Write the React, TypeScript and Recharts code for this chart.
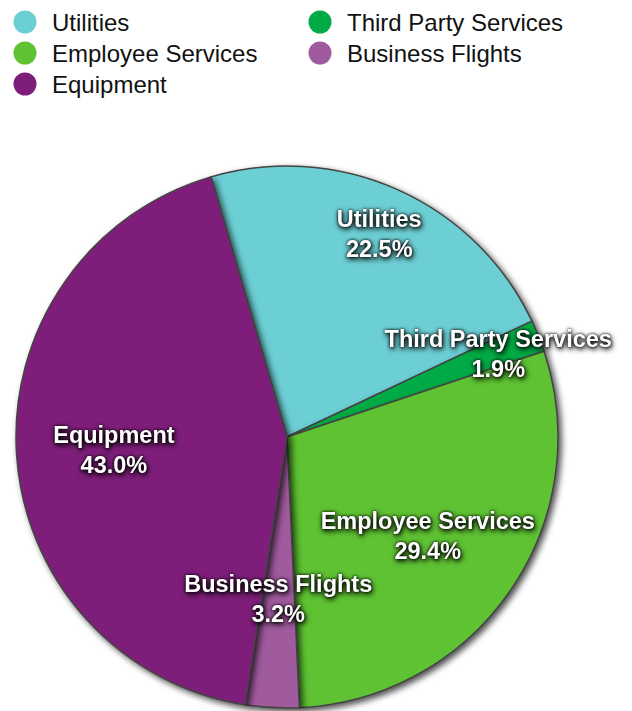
import React from 'react';
import { PieChart, Pie, Cell } from 'recharts';

const categories = ['Utilities', 'Third Party Services', 'Employee Services', 'Business Flights', 'Equipment'];
const shares = [22.5, 1.9, 29.4, 3.2, 43.0];
const colors = ['#6ccfd4', '#00aa44', '#5ec232', '#a05a9e', '#7e1e7a'];
// label distance as fraction of radius, per slice
const labelDist = [0.83, 0.84, 0.63, 0.59, 0.64];

const data = categories.map((name, i) => ({ name, value: shares[i] }));

const RAD = Math.PI / 180;
const FONT = 'Liberation Sans, Arial, Helvetica, sans-serif';

const renderLabel = (props: any) => {
  const { cx, cy, midAngle, outerRadius, index, name, value } = props;
  const r = outerRadius * labelDist[index];
  const x = cx + r * Math.cos(-midAngle * RAD);
  const y = cy + r * Math.sin(-midAngle * RAD) + 2;
  const style = {
    filter: 'drop-shadow(0px 0px 1.5px #000) drop-shadow(1px 2px 2.5px rgba(0,0,0,0.9))',
  };
  return (
    <g style={style}>
      <text x={x} y={y - 15} textAnchor="middle" dominantBaseline="central" fill="#fff"
        fontFamily={FONT} fontWeight="bold" fontSize={23.5}>
        {name}
      </text>
      <text x={x} y={y + 15} textAnchor="middle" dominantBaseline="central" fill="#fff"
        fontFamily={FONT} fontWeight="bold" fontSize={23.5}>
        {value.toFixed(1)}%
      </text>
    </g>
  );
};

const LegendBox = () => {
  const cols = [25, 320];
  return (
    <svg width={632} height={100} style={{ position: 'absolute', left: 0, top: 0 }}>
      {categories.map((c, i) => {
        const col = i % 2;
        const row = Math.floor(i / 2);
        const y = 22 + row * 31;
        return (
          <g key={c}>
            <circle cx={cols[col]} cy={y} r={11.5} fill={colors[i]} />
            <text x={cols[col] + 27} y={y} dominantBaseline="central" fontSize={24}
              fontFamily={FONT} fill="#111">
              {c}
            </text>
          </g>
        );
      })}
    </svg>
  );
};

export default function App() {
  return (
    <div style={{ position: 'absolute', left: 0, top: 0, width: 632, height: 711, background: '#fff' }}>
      <PieChart width={632} height={711} margin={{ top: 0, right: 0, bottom: 0, left: 0 }}>
        <Pie
          data={data}
          dataKey="value"
          nameKey="name"
          cx={287}
          cy={437}
          outerRadius={271}
          startAngle={106.3}
          endAngle={-253.7}
          stroke="#444"
          strokeWidth={1.5}
          label={renderLabel}
          labelLine={false}
          isAnimationActive={false}
        >
          {data.map((d, i) => (
            <Cell key={d.name} fill={colors[i]}
              style={{ filter: 'drop-shadow(3px 3px 3px rgba(0,0,0,0.7))' }} />
          ))}
        </Pie>
      </PieChart>
      <LegendBox />
    </div>
  );
}
